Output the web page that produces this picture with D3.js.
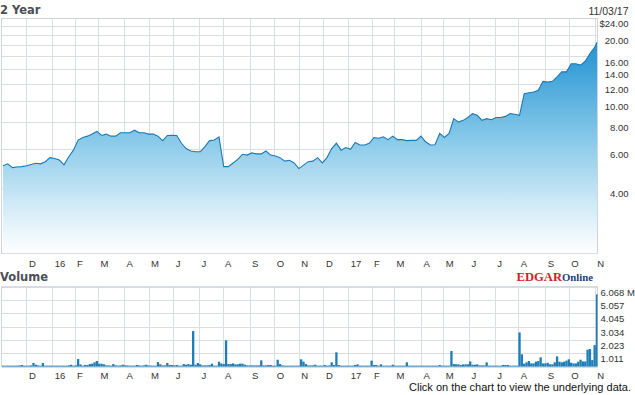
<!DOCTYPE html>
<html><head><meta charset="utf-8">
<script src="https://cdn.jsdelivr.net/npm/d3@7"></script>
<style>html,body{margin:0;padding:0;background:#fff;}svg{display:block}</style>
</head><body>
<script>
// ---- data ----
const monthLabels = ["D","16","F","M","A","M","J","J","A","S","O","N","D","17","F","M","A","M","J","J","A","S","O","N"];
// trading-day index (from 11/02/15) of each month start
const monthStartDay = [20,42,61,81,103,124,145,167,187,210,231,252,273,294,314,333,356,375,397,419,439,462,482,504];
const lastDay = 506;
const dateLabel = "11/03/17";

// closing price sampled every 4 trading days (last value = 11/03/17)
const priceStep = 4;
const prices = [
 5.05,5.15,4.95,4.98,5.0,5.05,5.12,5.18,5.15,5.27,
 5.5,5.45,5.36,5.1,5.55,5.95,6.62,6.8,6.9,7.05,
 7.25,6.95,7.05,6.9,6.9,7.15,7.15,7.15,7.35,7.15,
 7.15,7.05,7.05,6.9,6.58,6.95,6.97,6.95,6.4,6.05,
 5.9,5.85,5.85,6.18,6.58,6.62,6.85,5.0,5.0,5.2,
 5.4,5.7,5.65,5.78,5.72,5.72,5.9,5.65,5.6,5.5,
 5.3,5.35,5.2,4.9,5.08,5.27,5.3,5.5,5.2,5.5,
 6.05,6.4,5.95,6.12,6.0,6.45,6.28,6.28,6.4,6.8,
 6.75,6.85,6.65,6.9,6.65,6.65,6.58,6.6,6.6,6.9,
 6.5,6.28,6.3,7.1,6.8,7.1,8.3,8.0,8.15,8.4,
 8.75,8.6,8.15,8.3,8.2,8.4,8.4,8.5,8.75,8.7,
 8.6,10.8,10.9,11.0,11.2,12.3,12.2,12.3,12.9,13.6,
 13.6,14.8,14.8,14.6,15.2,16.5,17.6,18.6
];
const priceGridValues = [4,6,8,10,12,14,16,18,20,22,24];
const priceTickValues = [4,6,8,10,12,14,16,20,24];

// volume (millions) sampled every 2 trading days
const volumeStep = 2;
const volumes = [
 0.08,0.08,0.08,0.08,0.08,0.08,0.08,0.1,0.13,0.08,
 0.08,0.08,0.1,0.28,0.15,0.1,0.08,0.28,0.08,0.08,
 0.08,0.08,0.08,0.08,0.08,0.08,0.08,0.08,0.1,0.15,
 0.08,0.1,0.58,0.18,0.08,0.13,0.13,0.2,0.23,0.33,
 0.43,0.23,0.23,0.18,0.1,0.1,0.08,0.2,0.1,0.08,
 0.1,0.15,0.1,0.1,0.08,0.08,0.08,0.13,0.1,0.08,
 0.1,0.15,0.1,0.08,0.08,0.08,0.35,0.18,0.1,0.1,
 0.28,0.13,0.13,0.1,0.13,0.08,0.08,0.2,0.15,0.2,
 0.15,2.7,0.15,0.28,0.18,0.1,0.1,0.1,0.13,0.23,
 0.08,0.08,0.38,0.25,0.2,2.0,0.2,0.2,0.25,0.18,
 0.18,0.23,0.23,0.15,0.1,0.1,0.1,0.1,0.1,0.1,
 0.48,0.1,0.1,0.13,0.13,0.08,0.08,0.53,0.2,0.1,
 0.08,0.08,0.08,0.08,0.08,0.08,0.08,0.56,0.38,0.2,
 0.1,0.1,0.1,0.15,0.08,0.08,0.08,0.13,0.08,0.1,
 0.33,0.13,1.09,0.13,0.08,0.08,0.08,0.08,0.08,0.08,
 0.13,0.18,0.08,0.08,0.08,0.08,0.08,0.46,0.13,0.13,
 0.08,0.18,0.08,0.08,0.08,0.08,0.15,0.08,0.08,0.08,
 0.08,0.08,0.33,0.08,0.08,0.08,0.08,0.08,0.08,0.08,
 0.08,0.08,0.08,0.08,0.08,0.08,0.13,0.08,0.08,0.08,
 0.08,1.19,0.2,0.18,0.18,0.13,0.18,0.18,0.18,0.4,
 0.15,0.15,0.18,0.1,0.1,0.1,0.33,0.08,0.08,0.08,
 0.08,0.08,0.08,0.13,0.13,0.13,0.08,0.08,0.08,0.08,
 2.6,0.94,0.23,0.33,0.43,0.25,0.25,0.38,0.43,0.71,
 0.25,0.25,0.3,0.18,0.18,0.33,0.78,0.38,0.33,0.38,
 0.46,0.56,0.3,0.25,0.25,0.38,0.53,0.4,0.4,1.29,
 1.34,0.5,1.64,5.49
];
const volumeTickValues = [1.011,2.023,3.034,4.045,5.057,6.068];
const volumeMax = 6.068;

// ---- drawing ----
const W = 635, H = 395;
const P = {left: 2, right: 597.5, top: 18, bottom: 253.5};
const V = {top: 286.7, bottom: 366.7};
const gridColor = "#dadee3";
const textColor = "#333";
const blue = "#1d7db7";

const svg = d3.select("body").append("svg").attr("width", W).attr("height", H)
  .style("font-family", "'Liberation Sans', Arial, sans-serif");

const x = d3.scaleLinear().domain([0, lastDay]).range([3, 597]);
const y = d3.scaleLog().domain([2, 24]).range([P.bottom, P.top]);
const yv = d3.scaleLinear().domain([0, volumeMax]).range([V.bottom, V.top]);
const crisp = v => Math.round(v) + 0.5;

const defs = svg.append("defs");
const grad = defs.append("linearGradient").attr("id", "pg")
  .attr("gradientUnits", "userSpaceOnUse")
  .attr("x1", 0).attr("x2", 0).attr("y1", P.top).attr("y2", P.bottom);
grad.append("stop").attr("offset", "0%").attr("stop-color", "#1689ca");
grad.append("stop").attr("offset", "20%").attr("stop-color", "#389fd7");
grad.append("stop").attr("offset", "50%").attr("stop-color", "#84c7e8");
grad.append("stop").attr("offset", "80%").attr("stop-color", "#d2ebf7");
grad.append("stop").attr("offset", "100%").attr("stop-color", "#ffffff");
defs.append("clipPath").attr("id", "cp").append("rect")
  .attr("x", P.left).attr("y", P.top).attr("width", P.right - P.left).attr("height", P.bottom - P.top);
defs.append("clipPath").attr("id", "cv").append("rect")
  .attr("x", P.left).attr("y", V.top).attr("width", P.right - P.left).attr("height", V.bottom - V.top);

// titles
svg.append("text").attr("x", 0).attr("y", 14).text("2 Year")
  .style("font-family", "'DejaVu Sans', Verdana, sans-serif").style("font-weight", "bold")
  .style("font-size", "11.5px").attr("fill", "#4a4f55");
svg.append("text").attr("x", 0).attr("y", 281).text("Volume")
  .style("font-family", "'DejaVu Sans', Verdana, sans-serif").style("font-weight", "bold")
  .style("font-size", "11.5px").attr("fill", "#4a4f55");
svg.append("text").attr("x", 628.5).attr("y", 15).attr("text-anchor", "end")
  .style("font-size", "10.5px").attr("fill", textColor).text(dateLabel);

// ---- price panel grid ----
const pg = svg.append("g");
pg.selectAll("line.h").data(priceGridValues).join("line")
  .attr("x1", P.left).attr("x2", P.right)
  .attr("y1", d => crisp(y(d))).attr("y2", d => crisp(y(d)))
  .attr("stroke", gridColor);
pg.selectAll("line.v").data(monthStartDay).join("line")
  .attr("x1", d => crisp(x(d))).attr("x2", d => crisp(x(d)))
  .attr("y1", P.top).attr("y2", P.bottom)
  .attr("stroke", gridColor);
pg.append("rect").attr("x", P.left - 0.5).attr("y", P.top + 0.5)
  .attr("width", P.right - P.left + 0.5).attr("height", P.bottom - P.top - 0.5)
  .attr("fill", "none").attr("stroke", "#cfd4da");

// area + line
const px = (d, i) => x(Math.min(i * priceStep, lastDay));
const area = d3.area().x(px).y0(P.bottom).y1(d => y(d));
const line = d3.line().x(px).y(d => y(d));
const plotG = svg.append("g").attr("clip-path", "url(#cp)");
plotG.append("path").datum(prices).attr("d", area).attr("fill", "url(#pg)");
plotG.append("path").datum(prices).attr("d", line).attr("fill", "none")
  .attr("stroke", "#1b79b4").attr("stroke-width", 1.1).attr("stroke-linejoin", "miter");

// price axis labels
const pAxis = d3.axisRight(y).tickValues(priceTickValues).tickSize(0).tickPadding(0)
  .tickFormat(d => (d === 24 ? "$" : "") + d3.format(".2f")(d));
const pa = svg.append("g").attr("transform", "translate(628.5,0)").call(pAxis);
pa.select(".domain").remove();
pa.selectAll("text").attr("text-anchor", "end").attr("x", 0).attr("dy", "8.6")
  .style("font-size", "9.5px").style("font-family", "'Liberation Sans', Arial, sans-serif").attr("fill", textColor);

// month labels (both panels)
function monthAxis(yPos) {
  const ax = d3.axisBottom(x).tickValues(monthStartDay).tickSize(0).tickPadding(0)
    .tickFormat((d, i) => monthLabels[i]);
  const g = svg.append("g").attr("transform", `translate(0,${yPos})`).call(ax);
  g.select(".domain").remove();
  g.selectAll("text").attr("text-anchor", "start").attr("x", 2).attr("dy", 0).attr("y", 0)
    .style("font-size", "9.5px").style("font-family", "'Liberation Sans', Arial, sans-serif").attr("fill", textColor);
}
monthAxis(266.5);
monthAxis(378.5);

// ---- volume panel ----
const vg = svg.append("g");
vg.selectAll("line.h").data([0].concat(volumeTickValues)).join("line")
  .attr("x1", P.left).attr("x2", P.right)
  .attr("y1", d => crisp(yv(d))).attr("y2", d => crisp(yv(d)))
  .attr("stroke", gridColor);
vg.selectAll("line.v").data(monthStartDay).join("line")
  .attr("x1", d => crisp(x(d))).attr("x2", d => crisp(x(d)))
  .attr("y1", V.top).attr("y2", V.bottom)
  .attr("stroke", gridColor);
vg.append("rect").attr("x", P.left - 0.5).attr("y", V.top)
  .attr("width", P.right - P.left + 0.5).attr("height", V.bottom - V.top)
  .attr("fill", "none").attr("stroke", "#cfd4da");

svg.append("g").attr("clip-path", "url(#cv)").selectAll("rect").data(volumes).join("rect")
  .attr("x", (d, i) => x(i * volumeStep) - 1.15)
  .attr("width", 2.3)
  .attr("y", d => yv(d))
  .attr("height", d => yv(0) - yv(d))
  .attr("fill", blue);

const vAxis = d3.axisRight(yv).tickValues(volumeTickValues).tickSize(0).tickPadding(0)
  .tickFormat(d => d3.format(".3f")(d) + (d === volumeMax ? " M" : ""));
const va = svg.append("g").attr("transform", "translate(600.5,0)").call(vAxis);
va.select(".domain").remove();
va.selectAll("text").attr("text-anchor", "start").attr("x", 0).attr("dy", "8.4")
  .style("font-size", "9.5px").style("font-family", "'Liberation Sans', Arial, sans-serif").attr("fill", textColor);

// EDGAR Online logo
const logo = svg.append("text").attr("x", 516.5).attr("y", 280.5)
  .style("font-family", "'Liberation Serif', 'Times New Roman', serif").style("font-weight", "bold");
logo.append("tspan").text("EDGAR").attr("fill", "#d21f26").style("font-size", "13px")
  .attr("textLength", 45.5).attr("lengthAdjust", "spacingAndGlyphs");
logo.append("tspan").text("Online").attr("fill", "#1c3f77").style("font-size", "10.5px")
  .attr("textLength", 31).attr("lengthAdjust", "spacingAndGlyphs");

svg.append("text").attr("x", 631).attr("y", 391).attr("text-anchor", "end")
  .style("font-size", "11px").attr("fill", "#111")
  .text("Click on the chart to view the underlying data.");
</script>
</body></html>
